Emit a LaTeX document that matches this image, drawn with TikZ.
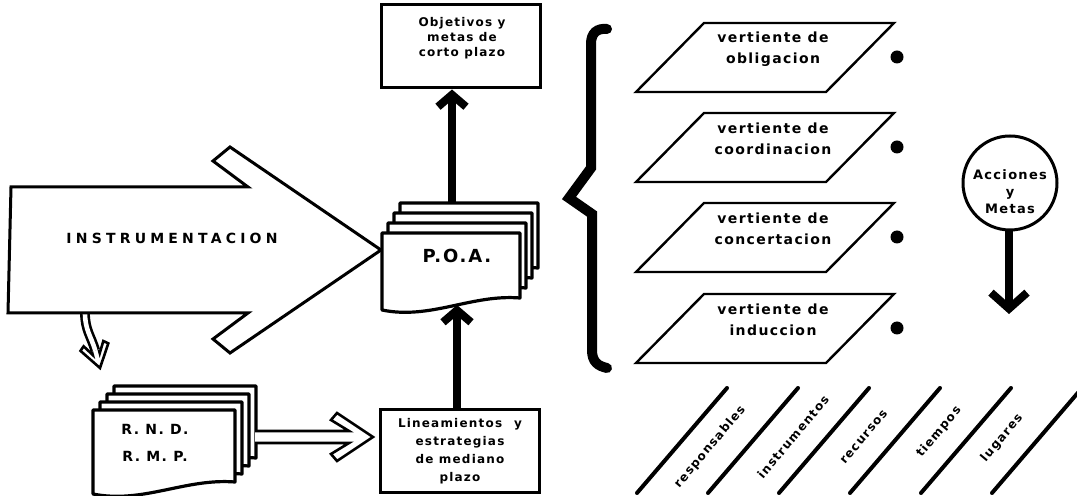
\documentclass[tikz,border=0pt]{standalone}
\usepackage{fontspec}
\setsansfont{DejaVu Sans}
\newfontfamily\letfont[LetterSpace=10]{DejaVu Sans}
\newfontfamily\widefont[LetterSpace=30]{DejaVu Sans}
\usetikzlibrary{arrows.meta,calc,positioning}

% one sheet of a document stack: top-left x, top y, width, height
\newcommand\docsheet[4]{%
  \draw[sheet] (#1,#2) -- ({#1+#3},#2) -- ({#1+#3},{#2+#4})
    .. controls ({#1+0.65*#3},{#2+#4-4}) and ({#1+0.35*#3},{#2+#4+22}) .. (#1,{#2+#4+12}) -- cycle;}

\tikzset{
  pics/hollowarrow/.style={code={
    \draw[hollow] (-#1,-6) -- (-24,-6) -- (-42,-17) -- (-36,-24) -- (0,0)
      -- (-36,24) -- (-42,17) -- (-24,6) -- (-#1,6);}}
}

\begin{document}
\begin{tikzpicture}[x=0.5pt, y=-0.5pt,
    sheet/.style={draw=black, line width=1.6pt, fill=white, line join=round},
    box/.style={draw=black, line width=1.5pt, minimum width=79.5pt, minimum height=41.5pt, inner sep=0pt},
    lbl/.style={font=\letfont\bfseries\fontsize{6}{7.5}\selectfont, align=center, inner sep=0pt},
    vbox/.style={draw=black, line width=1.2pt},
    vtext/.style={font=\letfont\bfseries\fontsize{7}{10.5}\selectfont, align=center, inner sep=0pt},
    dot/.style={circle, fill=black, inner sep=0pt, minimum size=6.5pt},
    slant/.style={line width=2pt, line cap=round},
    brace/.style={line width=5pt, line cap=round, line join=miter},
    bigarrow/.style={draw=black, line width=1.5pt, fill=white, line join=miter},
    hollow/.style={draw=black, line width=1.3pt, fill=white, line join=miter},
    hollowshaft/.style={line width=1.3pt, double=white, double distance=2.3pt},
    thick_arrow/.style={line width=4pt, -{Straight Barb[length=6pt, width=14pt]}},
    heavy_arrow/.style={line width=4pt, -{Straight Barb[length=8pt, width=18pt]}}
]
\useasboundingbox (0,0) rectangle (1077,496);

% big arrow
\draw[hollowshaft] (85,313) .. controls (85,330) and (91,336) .. (95.3,350.6);
\pic[rotate=-75, scale=0.6] at (100,368) {hollowarrow=30};
\draw[bigarrow] (11,187) -- (248,187) -- (213,161) -- (230,147) -- (381,250)
  -- (230,353) -- (213,339) -- (248,313) -- (8,313) -- cycle;
\node[font=\widefont\bfseries\fontsize{7}{8}\selectfont, inner sep=0pt] (instr) at (172,238) {INSTRUMENTACION};

% P.O.A. stack
\foreach \k in {3,2,1} \docsheet{382+6*\k}{233-10*\k}{138}{65};
\docsheet{382}{233}{138}{65}
\node[lbl, font=\letfont\bfseries\fontsize{9}{10}\selectfont] (poa) at (457,256) {P.O.A.};
\coordinate (poatop) at (452,203);
\coordinate (poabottom) at (457,305);

% boxes
\node[box] (objetivos) at (460.5,46.5) {};
\node[lbl] (objetivostxt) at (462,38) {Objetivos y\\metas de\\corto plazo};
\node[box, lbl, draw, line width=1.5pt, minimum width=79.5pt, minimum height=41.5pt,
  font=\letfont\bfseries\fontsize{6}{9}\selectfont] (lineam) at (460,451.5)
  {Lineamientos\quad y\\estrategias\\de mediano\\plazo};

\draw[thick_arrow] (poatop) -- (objetivos.south -| poatop);
\draw[thick_arrow] (lineam.north -| poabottom) -- (poabottom);

% R.N.D. stack
\foreach \k in {3,2,1} \docsheet{93+7*\k}{410-8*\k}{142}{72};
\docsheet{93}{410}{142}{72}
\node[lbl, font=\letfont\bfseries\fontsize{7}{13.5}\selectfont] (rnd) at (155,443) {R. N. D.\\R. M. P.};
\coordinate (rndout) at (256,437);
\pic at ($(lineam.west |- rndout)+(-6,0)$) {hollowarrow=118};

% brace
\draw[brace] (607,29) .. controls (597,28) and (591,33) .. (591,44) -- (591,168)
  -- (569,198) -- (592,214) -- (592,350) .. controls (592,362) and (598,366) .. (607,368);

% vertientes
\foreach \y/\nm in {23/obligacion, 113/coordinacion, 203/concertacion, 294/induccion}{
  \draw[vbox] (704,\y) -- ++(190,0) -- ++(-68,69) -- ++(-190,0) -- cycle;
  \node[vtext] (\nm) at (773,\y+26) {vertiente de\\\nm};
  \node[dot] (\nm-dot) at (897,\y+34) {};
}

% acciones y metas
\node[circle, draw=black, line width=1.5pt, minimum size=47pt] (acciones) at (1010,183) {};
\node[lbl, font=\letfont\bfseries\fontsize{6.5}{8.5}\selectfont] (accionestxt) at (1010,192) {Acciones\\y\\Metas};
\coordinate (accionesend) at (1009,314);
\draw[heavy_arrow] (acciones.south -| accionesend) -- (accionesend);

% bottom slanted fields
\foreach \i in {0,...,5}
  \draw[slant] ({637+71*\i},493) -- ++(90,-105);
\foreach \x/\y/\txt in {710/447/responsables, 793/437/instrumentos, 864/437/recursos, 939/432/tiempos, 1002/438/lugares}
  \node[lbl, rotate=50] (\txt) at (\x,\y) {\txt};
\end{tikzpicture}
\end{document}
